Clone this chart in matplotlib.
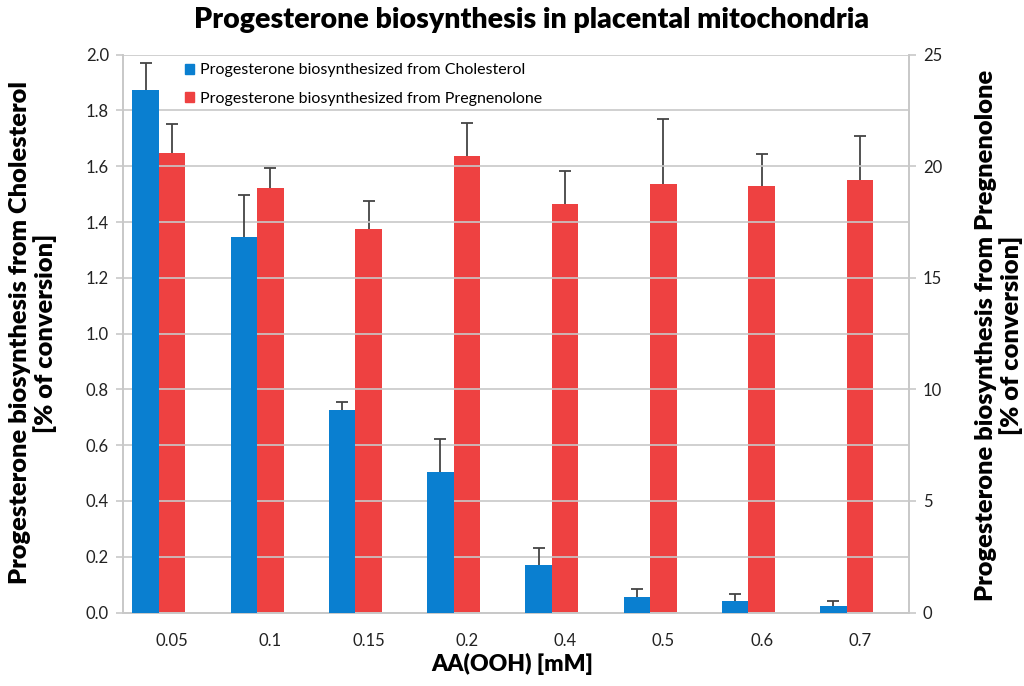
import matplotlib
matplotlib.use("Agg")
import matplotlib.pyplot as plt
import numpy as np
from matplotlib.patches import Patch

plt.rcParams['font.family'] = ['Lato', 'DejaVu Sans']

categories = ["0.05", "0.1", "0.15", "0.2", "0.4", "0.5", "0.6", "0.7"]
chol = [1.874, 1.346, 0.725, 0.503, 0.172, 0.057, 0.043, 0.025]
chol_err = [0.096, 0.151, 0.029, 0.118, 0.058, 0.029, 0.022, 0.015]
preg = [20.6, 19.03, 17.19, 20.47, 18.31, 19.21, 19.12, 19.39]
preg_err = [1.3, 0.9, 1.26, 1.48, 1.48, 2.92, 1.44, 1.97]

blue = "#0A7FD0"
red = "#EE4141"
grid_c = "#C8C8C8"
ecol = "#444444"

fig = plt.figure(figsize=(10.24, 6.86), dpi=100)
ax = fig.add_axes([123/1024, 1-612.5/686, (909-123)/1024, (612.5-54.7)/686])
ax2 = ax.twinx()

x = np.arange(len(categories))
w = 0.27
ekw = dict(ecolor=ecol, elinewidth=1.3, capsize=4, capthick=1.3)
b1 = ax.bar(x - w, chol, width=w, color=blue, yerr=[np.zeros(len(chol)), chol_err],
            error_kw=ekw, zorder=3)
b2 = ax2.bar(x, preg, width=w, color=red, yerr=[np.zeros(len(preg)), preg_err],
             error_kw=ekw, zorder=3)
for b in (b1, b2):
    caps = b.errorbar.lines[1]
    if len(caps) > 0:
        caps[0].set_visible(False)

ax.set_xlim(-0.5, len(categories) - 0.5)
ax.set_ylim(0, 2.0)
ax2.set_ylim(0, 25)
yt = np.arange(0, 2.01, 0.2)
ax.set_yticks(yt)
ax.set_yticklabels([f"{v:.1f}" for v in yt])
ax2.set_yticks(np.arange(0, 26, 5))
ax.set_xticks(x)
ax.set_xticklabels(categories)
ax.yaxis.grid(True, color=grid_c, linewidth=1.2, zorder=0)
ax.set_axisbelow(True)

for a in (ax, ax2):
    a.spines["top"].set_visible(False)
    for s in ("left", "right", "bottom"):
        a.spines[s].set_color(grid_c)
        a.spines[s].set_linewidth(1.2)
    a.tick_params(axis='y', colors=grid_c, labelcolor="#222222", labelsize=12, length=5, width=1.2, pad=5)
ax.tick_params(axis='x', length=0, labelsize=12, labelcolor="#222222", pad=15)
ax.set_zorder(ax2.get_zorder() + 1)
ax.patch.set_visible(False)

fig.text(532/1024, 1-20/686, "Progesterone biosynthesis in placental mitochondria",
         fontsize=20.5, fontweight='heavy', ha='center', va='center')
fig.text(33/1024, 1-333/686, "Progesterone biosynthesis from Cholesterol\n[% of conversion]",
         fontsize=18.3, fontweight='heavy', rotation=90, ha='center', va='center',
         multialignment='center', linespacing=1.15)
fig.text(999/1024, 1-335/686, "Progesterone biosynthesis from Pregnenolone\n[% of conversion]",
         fontsize=18.3, fontweight='heavy', rotation=90, ha='center', va='center',
         multialignment='center', linespacing=1.15)
fig.text(512/1024, 1-664/686, "AA(OOH) [mM]", fontsize=16.5, fontweight='heavy',
         ha='center', va='center')

handles = [Patch(color=blue), Patch(color=red)]
ax.legend(handles, ["Progesterone biosynthesized from Cholesterol", "Progesterone biosynthesized from Pregnenolone"],
          loc='upper left', bbox_to_anchor=(0.06, 1.01), frameon=False, fontsize=11.5,
          handlelength=0.6, handleheight=0.6, handletextpad=0.35, labelspacing=0.9)

fig.savefig("out.png", dpi=100)
